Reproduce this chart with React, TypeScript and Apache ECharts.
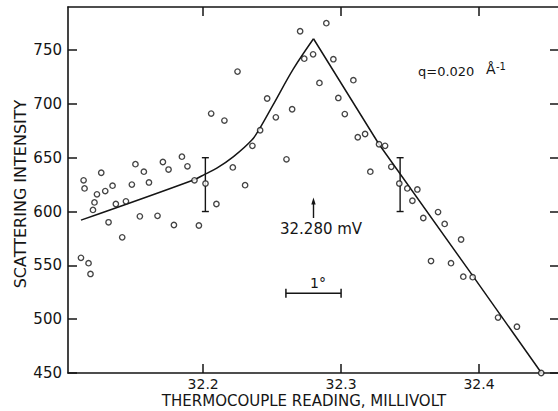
import React, { useEffect, useRef } from "react";
import * as echarts from "echarts";

const FONT = "DejaVu Sans";
const INK = "#151515";

const xTickValues = [32.2, 32.3, 32.4];
const yTickValues = [450, 500, 550, 600, 650, 700, 750];

const obsMillivolt = [
  32.1114, 32.1133, 32.114, 32.1169, 32.1183, 32.1201, 32.1212, 32.123, 32.1261, 32.129,
  32.1314, 32.1343, 32.1367, 32.1413, 32.144, 32.1483, 32.1509, 32.1541, 32.157, 32.1607,
  32.1669, 32.1708, 32.1749, 32.1788, 32.1846, 32.1886, 32.1937, 32.1969, 32.2017, 32.2058,
  32.2096, 32.2154, 32.2215, 32.2249, 32.2304, 32.2357, 32.2413, 32.2464, 32.2527, 32.2604,
  32.2645, 32.2703, 32.2733, 32.2797, 32.2843, 32.2893, 32.2944, 32.298, 32.3027, 32.3089,
  32.3121, 32.3174, 32.3212, 32.3275, 32.3319, 32.3364, 32.3422, 32.348, 32.3517, 32.3553,
  32.3596, 32.3652, 32.3703, 32.3751, 32.3797, 32.387, 32.3886, 32.3954, 32.4138, 32.4275,
  32.4451,
];
const obsIntensity = [
  557, 629, 621.5, 552, 542, 601.5, 608.5, 616, 636, 619,
  590, 624, 607, 576, 609.5, 625, 644, 595.5, 637, 627,
  596, 646, 639, 587.5, 651, 642, 629, 587, 626, 691,
  607, 684.5, 641, 730, 624.5, 661, 675.5, 705, 687.5, 648.5,
  695, 767.5, 742, 746, 719.5, 775, 741.5, 705.5, 690.5, 722,
  669, 672, 637, 662.5, 661, 641.5, 626, 621.5, 610, 620.5,
  594, 554, 599.5, 588.5, 552, 574, 539.5, 539, 501.5, 493,
  450,
];

// rising (curved) branch of the fitted curve
const riseMillivolt = [32.1114, 32.193, 32.2014, 32.2099, 32.222, 32.2353, 32.2413, 32.2509, 32.2654, 32.28];
const riseIntensity = [592, 629.3, 634.8, 640.3, 651, 666.4, 677.8, 699.5, 732.5, 760.5];
// falling (straight) branch of the fitted curve
const fallMillivolt = [32.28, 32.3275, 32.3959, 32.4453];
const fallIntensity = [760.5, 662.5, 539.5, 450];

const errorBarMillivolt = [32.2016, 32.3428];
const errorBarLow = [600, 600];
const errorBarHigh = [650, 650];

const peakMillivolt = 32.28;
const peakArrowFrom = 594;
const peakArrowTo = 613;

const degreeBarFrom = 32.26;
const degreeBarTo = 32.3;
const degreeBarIntensity = 524;

export default function App() {
  const ref = useRef<HTMLDivElement>(null);
  useEffect(() => {
    if (!ref.current) return;
    const chart = echarts.init(ref.current, null, { renderer: "svg" });
    const axisLine = { show: true, onZero: false, lineStyle: { color: INK, width: 1.6 } };
    const mkX = (pos: "bottom" | "top", labels: boolean) => ({
      type: "value",
      position: pos,
      min: 32.102,
      max: 32.458,
      axisLine,
      axisTick: { show: true, inside: true, length: 9, customValues: xTickValues, lineStyle: { color: INK, width: 1.5 } },
      axisLabel: {
        show: labels,
        customValues: xTickValues,
        formatter: (v: number) => v.toFixed(1),
        fontSize: 14,
        fontFamily: FONT,
        color: INK,
        margin: 4,
      },
      splitLine: { show: false },
    });
    const mkY = (pos: "left" | "right", labels: boolean) => ({
      type: "value",
      position: pos,
      min: 450,
      max: 790,
      axisLine,
      axisTick: { show: true, inside: true, length: 9, customValues: yTickValues, lineStyle: { color: INK, width: 1.5 } },
      axisLabel: {
        show: labels,
        customValues: yTickValues,
        fontSize: 15,
        fontFamily: FONT,
        color: INK,
        margin: 6,
      },
      splitLine: { show: false },
    });

    const scatterData = obsMillivolt.map((x, i) => [x, obsIntensity[i]]);
    const riseData = riseMillivolt.map((x, i) => [x, riseIntensity[i]]);
    const fallData = fallMillivolt.map((x, i) => [x, fallIntensity[i]]);
    const errData = errorBarMillivolt.map((x, i) => [x, errorBarLow[i], errorBarHigh[i]]);

    const option: any = {
      animation: false,
      backgroundColor: "#fff",
      grid: { left: 68, right: 3, top: 7, bottom: 38, containLabel: false },
      xAxis: [mkX("bottom", true), mkX("top", false)],
      yAxis: [mkY("left", true), mkY("right", false)],
      series: [
        {
          type: "line",
          data: riseData,
          showSymbol: false,
          symbol: "none",
          smooth: 0.35,
          lineStyle: { color: INK, width: 1.5 },
          z: 2,
        },
        {
          type: "line",
          data: fallData,
          showSymbol: false,
          symbol: "none",
          lineStyle: { color: INK, width: 1.5 },
          z: 2,
        },
        {
          type: "custom",
          data: errData,
          z: 3,
          renderItem: (params: any, api: any) => {
            const x = api.value(0);
            const lo = api.coord([x, api.value(1)]);
            const hi = api.coord([x, api.value(2)]);
            const st = { stroke: INK, lineWidth: 1.4 };
            const cw = 3.5;
            return {
              type: "group",
              children: [
                { type: "line", shape: { x1: lo[0], y1: lo[1], x2: hi[0], y2: hi[1] }, style: st },
                { type: "line", shape: { x1: lo[0] - cw, y1: lo[1], x2: lo[0] + cw, y2: lo[1] }, style: st },
                { type: "line", shape: { x1: hi[0] - cw, y1: hi[1], x2: hi[0] + cw, y2: hi[1] }, style: st },
              ],
            };
          },
        },
        {
          type: "custom",
          data: [[degreeBarFrom, degreeBarTo, degreeBarIntensity]],
          z: 3,
          renderItem: (params: any, api: any) => {
            const a = api.coord([api.value(0), api.value(2)]);
            const b = api.coord([api.value(1), api.value(2)]);
            const st = { stroke: INK, lineWidth: 1.5 };
            const ch = 4.5;
            return {
              type: "group",
              children: [
                { type: "line", shape: { x1: a[0], y1: a[1], x2: b[0], y2: b[1] }, style: st },
                { type: "line", shape: { x1: a[0], y1: a[1] - ch, x2: a[0], y2: a[1] + ch }, style: st },
                { type: "line", shape: { x1: b[0], y1: b[1] - ch, x2: b[0], y2: b[1] + ch }, style: st },
              ],
            };
          },
        },
        {
          type: "custom",
          data: [[peakMillivolt, peakArrowFrom, peakArrowTo]],
          z: 3,
          renderItem: (params: any, api: any) => {
            const a = api.coord([api.value(0), api.value(1)]);
            const b = api.coord([api.value(0), api.value(2)]);
            return {
              type: "group",
              children: [
                { type: "line", shape: { x1: a[0], y1: a[1], x2: b[0], y2: b[1] + 4 }, style: { stroke: INK, lineWidth: 1.4 } },
                {
                  type: "polygon",
                  shape: { points: [[b[0], b[1]], [b[0] - 2.2, b[1] + 7], [b[0] + 2.2, b[1] + 7]] },
                  style: { fill: INK },
                },
              ],
            };
          },
        },
        {
          type: "scatter",
          data: scatterData,
          symbol: "circle",
          symbolSize: 5.4,
          itemStyle: { color: "#fff", borderColor: INK, borderWidth: 1.35 },
          z: 5,
        },
      ],
      graphic: [
        {
          type: "text",
          x: 20,
          y: 194,
          rotation: Math.PI / 2,
          style: { text: "SCATTERING INTENSITY", font: `16px '${FONT}'`, fill: INK, textAlign: "center", textVerticalAlign: "middle" },
        },
        {
          type: "text",
          x: 304,
          y: 401,
          style: { text: "THERMOCOUPLE READING, MILLIVOLT", font: `15px '${FONT}'`, fill: INK, textAlign: "center", textVerticalAlign: "middle" },
        },
        {
          type: "text",
          x: 280,
          y: 229,
          style: { text: "32.280 mV", font: `15px '${FONT}'`, fill: INK, textAlign: "left", textVerticalAlign: "middle" },
        },
        {
          type: "text",
          x: 318,
          y: 283,
          style: { text: "1°", font: `14px '${FONT}'`, fill: INK, textAlign: "center", textVerticalAlign: "middle" },
        },
        {
          type: "text",
          x: 418,
          y: 71,
          style: { text: "q=0.020", font: `13px '${FONT}'`, fill: INK, textAlign: "left", textVerticalAlign: "middle" },
        },
        {
          type: "text",
          x: 486,
          y: 69,
          style: { text: "Å", font: `14px '${FONT}'`, fill: INK, textAlign: "left", textVerticalAlign: "middle" },
        },
        {
          type: "text",
          x: 496,
          y: 66,
          style: { text: "-1", font: `10px '${FONT}'`, fill: INK, textAlign: "left", textVerticalAlign: "middle" },
        },
      ],
    };
    chart.setOption(option);
    return () => chart.dispose();
  }, []);

  return (
    <div style={{ position: "fixed", left: 0, top: 0, width: 558, height: 411, overflow: "hidden", background: "#fff" }}>
      <div ref={ref} style={{ width: 562, height: 411 }} />
    </div>
  );
}
